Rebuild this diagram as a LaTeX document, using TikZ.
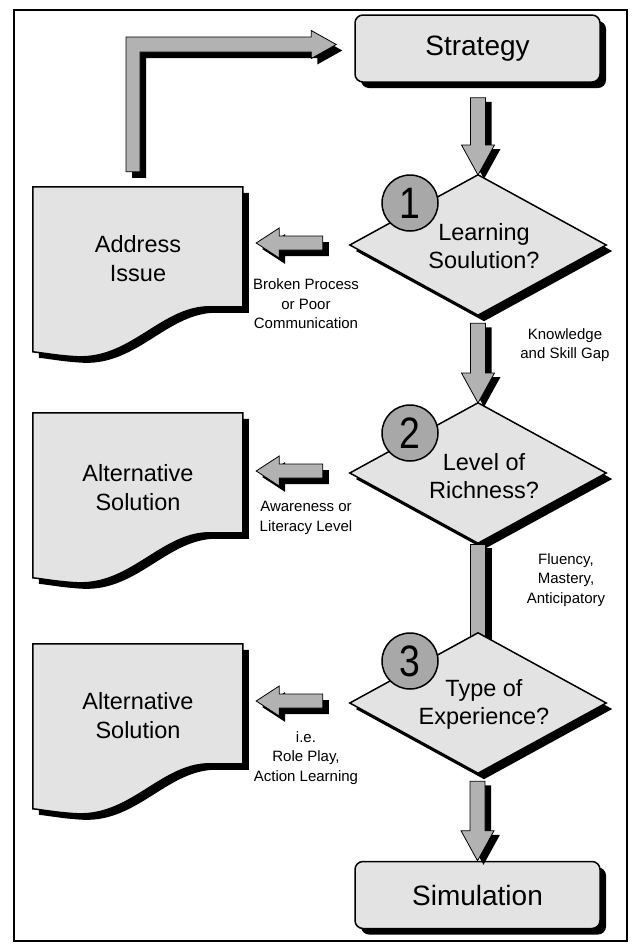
\documentclass[tikz,border=0pt]{standalone}
\usepackage{fontspec}
\setmainfont{Liberation Sans}
\newfontfamily\digitfont{Liberation Sans}[FakeStretch=0.85]
\usetikzlibrary{shapes.geometric,shadows,calc}

\definecolor{panel}{gray}{0.89}
\definecolor{arrowgray}{gray}{0.70}
\definecolor{badgegray}{gray}{0.66}

\tikzset{
  shade66/.style={general shadow={fill=black,shadow xshift=6pt,shadow yshift=-6pt}},
  shade64/.style={general shadow={fill=black,shadow xshift=6pt,shadow yshift=-4pt}},
  termbox/.style={draw,line width=1.5pt,fill=panel,rounded corners=8pt,
    minimum width=245pt,minimum height=67pt,inner sep=0pt,shade66,
    font=\fontsize{28}{32}\selectfont},
  decision/.style={draw,line width=1.5pt,fill=panel,shape=diamond,
    minimum width=257pt,minimum height=141pt,inner sep=0pt,shade66},
  decisiontext/.style={align=center,font=\fontsize{23.5}{28}\selectfont},
  badge/.style={draw,line width=1.5pt,fill=badgegray,circle,minimum size=56pt,
    inner sep=0pt,font=\digitfont\fontsize{44}{44}\selectfont},
  docframe/.style={minimum width=210pt,minimum height=165pt,inner sep=0pt},
  docshape/.style={draw,line width=1.5pt,fill=panel,shade66},
  doctext/.style={align=center,font=\fontsize{23.5}{29}\selectfont},
  smalltext/.style={align=center,font=\fontsize{15}{19.5}\selectfont},
  blockarrow/.style={draw,line width=0.8pt,fill=arrowgray,line join=miter},
}

% vertical block arrow: shaft top at #1, tip at #2
\newcommand\blockdown[2]{%
  \draw[blockarrow,shade64] let \p1=#1, \p2=#2 in
    (\x2-7.5pt,\y1) -- (\x2+7.5pt,\y1) -- (\x2+7.5pt,\y2+30pt) --
    (\x2+16.5pt,\y2+30pt) -- (\x2,\y2) -- (\x2-16.5pt,\y2+30pt) --
    (\x2-7.5pt,\y2+30pt) -- cycle;}

% horizontal block arrow pointing left: tail at #1, tip 13pt right of #2
\newcommand\blockleft[2]{%
  \draw[blockarrow,shade66] let \p1=#1, \p2=#2 in
    (\x1,\y1+7pt) -- (\x2+36pt,\y1+7pt) -- (\x2+36pt,\y1+15pt) --
    (\x2+13pt,\y1) -- (\x2+36pt,\y1-15pt) -- (\x2+36pt,\y1-7pt) --
    (\x1,\y1-7pt) -- cycle;}

% document shape with wavy bottom edge, drawn over a docframe node
\newcommand\docoutline[1]{%
  \path[docshape] (#1.north west) -- ++(210,0) -- ++(0,120) -- ++(-30,0)
    .. controls +(-50,-2) and +(55,2) .. ++(-135,50)
    .. controls +(-20,-1) and +(10,1) .. ++(-45,-5) -- cycle;}

\begin{document}
\begin{tikzpicture}[x=1pt,y=-1pt]
\useasboundingbox (0,0) rectangle (635,951);
\fill[white] (0,0) rectangle (635,951);
\draw[line width=1.6pt] (14,10) rectangle (627,941);

% main column
\node[termbox] (strat) at (477.5,48.5) {Strategy};
\node[termbox] (sim) at (477.5,895) {Simulation};

\node[docframe] (doc1) at (138,269.5) {};
\node[docframe] (doc2) at (138,495.5) {};
\node[docframe] (doc3) at (138,726.5) {};

% loop back from the first document to the strategy box
\draw[blockarrow,shade66]
  let \p1=([xshift=-5pt,yshift=15pt]doc1.north), \p2=([xshift=-18pt,yshift=4pt]strat.west) in
  (\x1-7pt,\y1) -- (\x1-7pt,\y2+7.5pt) -- (\x2-25pt,\y2+7.5pt) -- (\x2-25pt,\y2+14pt) --
  (\x2,\y2) -- (\x2-25pt,\y2-14pt) -- (\x2-25pt,\y2-7.5pt) -- (\x1+7pt,\y2-7.5pt) --
  (\x1+7pt,\y1) -- cycle;

\blockdown{([yshift=-15pt]strat.south)}{(478,175)}
\node[decision] (d1) at (478,245) {};
\node[decisiontext] (q1) at ($(d1.center)+(6,1)$) {Learning\\Soulution?};
\node[badge] (b1) at ($(d1.center)+(-68,-42)$) {1};

\blockdown{([yshift=-7pt]d1.south)}{(478,403)}
\node[decision] (d2) at (478,473) {};
\node[decisiontext] (q2) at ($(d2.center)+(6,3)$) {Level of\\Richness?};
\node[badge] (b2) at ($(d2.center)+(-68,-40)$) {2};

% plain shaft between the second and third decisions
\draw[blockarrow,shade64] let \p1=(d2.south) in
  (\x1-7.5pt,\y1) -- (\x1+7.5pt,\y1) -- (\x1+7.5pt,\y1-95pt) -- (\x1-7.5pt,\y1-95pt) -- cycle;
\node[decision] (d3) at (478,703) {};
\node[decisiontext] (q3) at ($(d3.center)+(6,1)$) {Type of\\Experience?};
\node[badge] (b3) at ($(d3.center)+(-68,-42)$) {3};

\blockdown{([yshift=-7pt]d3.south)}{(sim.north)}

% documents
\docoutline{doc1}
\docoutline{doc2}
\docoutline{doc3}
\node[doctext] (t1) at ($(doc1.north)+(0,72)$) {Address\\Issue};
\node[doctext] (t2) at ($(doc2.north)+(0,75)$) {Alternative\\Solution};
\node[doctext] (t3) at ($(doc3.north)+(0,72)$) {Alternative\\Solution};

% side exits
\blockleft{([xshift=-26pt,yshift=2pt]d1.west)}{(doc1.east)}
\blockleft{([xshift=-26pt,yshift=2pt]d2.west)}{(doc2.east)}
\blockleft{([xshift=-26pt,yshift=2pt]d3.west)}{(doc3.east)}

% labels
\node[smalltext] (l1) at (306,304) {Broken Process\\or Poor\\Communication};
\node[smalltext] (l2) at (306,518) {Awareness or\\Literacy Level};
\node[smalltext] (l3) at (306,758) {i.e.\\Role Play,\\Action Learning};
\node[smalltext] (l4) at (565,345) {Knowledge\\and Skill Gap};
\node[smalltext] (l5) at (566,580) {Fluency,\\Mastery,\\Anticipatory};
\end{tikzpicture}
\end{document}
